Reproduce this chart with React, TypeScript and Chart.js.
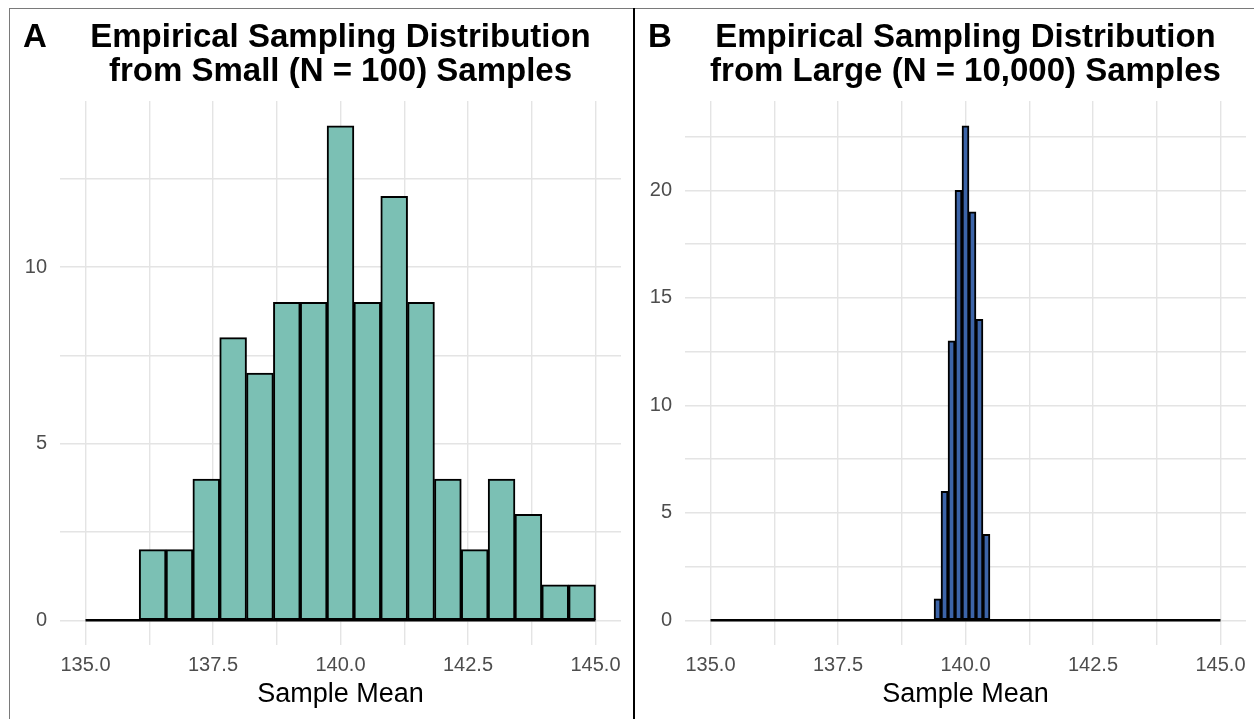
import React, { useEffect, useRef } from 'react';
import { Chart, registerables } from 'chart.js';

Chart.register(...registerables);

// ---- data ----
const binRange = [135, 145];
const smallCounts = [0, 0, 2, 2, 4, 8, 7, 9, 9, 14, 9, 12, 9, 4, 2, 4, 3, 1, 1];
const largeCounts = [
  0, 0, 0, 0, 0, 0, 0, 0, 0, 0,
  0, 0, 0, 0, 0, 0, 0, 0, 0, 0,
  0, 0, 0, 0, 0, 0, 0, 0, 0, 0,
  0, 0, 1, 6, 13, 20, 23, 19, 14, 4,
  0, 0, 0, 0, 0, 0, 0, 0, 0, 0,
  0, 0, 0, 0, 0, 0, 0, 0, 0, 0,
  0, 0, 0, 0, 0, 0, 0, 0, 0, 0,
  0, 0, 0,
];
const xGridValues = [135, 136.25, 137.5, 138.75, 140, 141.25, 142.5, 143.75, 145];
const xTickLabels = [135, 137.5, 140, 142.5, 145];
const yGridA = [0, 2.5, 5, 7.5, 10, 12.5];
const yGridB = [0, 2.5, 5, 7.5, 10, 12.5, 15, 17.5, 20, 22.5];
const yLabelStep = 5;
const titleA = ['Empirical Sampling Distribution', 'from Small (N = 100) Samples'];
const titleB = ['Empirical Sampling Distribution', 'from Large (N = 10,000) Samples'];

const FONT = '"Liberation Sans", Arial, Helvetica, sans-serif';
const GRID = '#E4E4E4';

const panelTitlePlugin = {
  id: 'panelTitle',
  afterDraw(chart: any, _args: any, opts: any) {
    const { ctx, chartArea } = chart;
    ctx.save();
    ctx.font = `bold 33px ${FONT}`;
    ctx.fillStyle = '#000';
    ctx.textBaseline = 'alphabetic';
    ctx.textAlign = 'center';
    const cx = (chartArea.left + chartArea.right) / 2;
    ctx.fillText(opts.lines[0], cx, 36.5);
    ctx.fillText(opts.lines[1], cx, 71);
    ctx.textAlign = 'left';
    ctx.fillText(opts.tag, chartArea.left - 37, 36.5);
    ctx.restore();
  },
};

function makeConfig(
  counts: number[],
  fill: string,
  yMin: number,
  yMax: number,
  yGrid: number[],
  lines: string[],
  tag: string,
  rightPad: number
): any {
  const n = counts.length;
  const w = (binRange[1] - binRange[0]) / n;
  const bars = counts.map((c, i) => ({ x: binRange[0] + w * (i + 0.5), y: c }));
  return {
    type: 'bar',
    data: {
      datasets: [
        {
          type: 'line',
          data: [
            { x: binRange[0], y: 0 },
            { x: binRange[1], y: 0 },
          ],
          borderColor: '#000',
          borderWidth: 2.5,
          pointRadius: 0,
          order: 0,
        },
        {
          type: 'bar',
          data: bars,
          backgroundColor: fill,
          borderColor: '#000',
          borderWidth: 2,
          borderSkipped: false,
          barPercentage: 1,
          categoryPercentage: 1,
          order: 1,
        },
      ],
    },
    options: {
      responsive: false,
      animation: false,
      layout: { padding: { top: 91, right: rightPad, left: 0, bottom: 0 } },
      plugins: {
        legend: { display: false },
        tooltip: { enabled: false },
        title: { display: false },
        panelTitle: { lines, tag },
      },
      scales: {
        x: {
          type: 'linear',
          offset: false,
          min: 134.5,
          max: 145.5,
          afterBuildTicks: (s: any) => {
            s.ticks = xGridValues.map((v) => ({ value: v }));
          },
          afterFit: (s: any) => {
            s.height = 74;
          },
          grid: { color: GRID, lineWidth: 1.4, drawTicks: false, offset: false },
          border: { display: false },
          ticks: {
            autoSkip: false,
            maxRotation: 0,
            minRotation: 0,
            padding: 8,
            color: '#4D4D4D',
            font: { size: 20, family: FONT },
            callback: (v: number) =>
              xTickLabels.some((t) => Math.abs(t - v) < 1e-9) ? Number(v).toFixed(1) : '',
          },
          title: {
            display: true,
            text: 'Sample Mean',
            color: '#000',
            font: { size: 27, family: FONT },
            padding: { top: 0, bottom: 8 },
          },
        },
        y: {
          type: 'linear',
          min: yMin,
          max: yMax,
          afterBuildTicks: (s: any) => {
            s.ticks = yGrid.map((v) => ({ value: v }));
          },
          afterFit: (s: any) => {
            s.width = 49;
          },
          grid: { color: GRID, lineWidth: 1.4, drawTicks: false },
          border: { display: false },
          ticks: {
            autoSkip: false,
            padding: 13,
            color: '#4D4D4D',
            font: { size: 20, family: FONT },
            callback: (v: number) => (Math.abs(v % yLabelStep) < 1e-9 ? String(v) : ''),
          },
        },
      },
    },
    plugins: [panelTitlePlugin],
  };
}

function Panel(props: { cfg: () => any; left: number; width: number }) {
  const ref = useRef<HTMLCanvasElement | null>(null);
  useEffect(() => {
    if (!ref.current) return;
    const chart = new Chart(ref.current, props.cfg());
    return () => chart.destroy();
  }, []);
  return (
    <canvas
      ref={ref}
      width={props.width}
      height={709}
      style={{ position: 'absolute', left: props.left, top: 10, width: props.width, height: 709, display: 'block' }}
    />
  );
}

export default function App() {
  return (
    <div style={{ position: 'absolute', left: 0, top: 0, width: 1254, height: 719, background: '#fff', overflow: 'hidden' }}>
      <div style={{ position: 'absolute', left: 9, top: 8, width: 1245, height: 1, background: '#7a7a7a' }} />
      <div style={{ position: 'absolute', left: 9, top: 8, width: 1, height: 711, background: '#7a7a7a' }} />
      <div style={{ position: 'absolute', left: 633, top: 8, width: 2, height: 711, background: '#000' }} />
      <Panel
        left={11}
        width={622}
        cfg={() => makeConfig(smallCounts, '#7BC0B4', -0.7, 14.7, yGridA, titleA, 'A', 12)}
      />
      <Panel
        left={636}
        width={618}
        cfg={() => makeConfig(largeCounts, '#3C64A8', -1.15, 24.15, yGridB, titleB, 'B', 8)}
      />
    </div>
  );
}
